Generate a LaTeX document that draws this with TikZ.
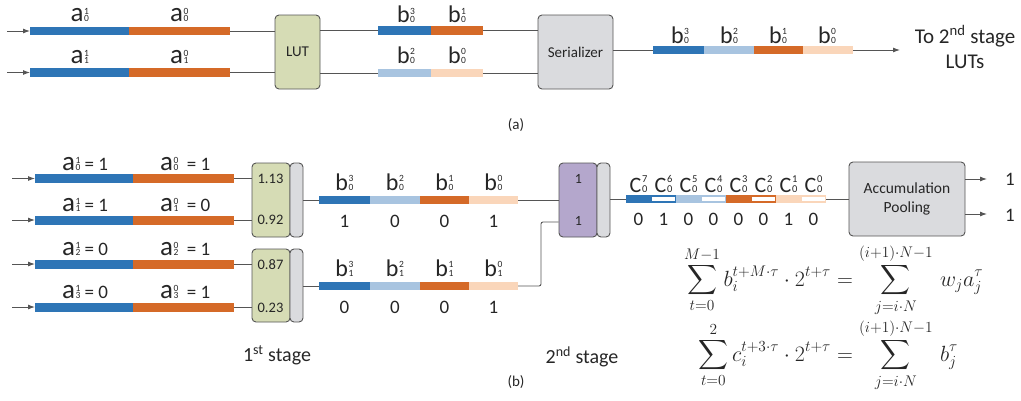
\RequirePackage{fix-cm}
\documentclass[tikz,border=0pt]{standalone}
\usepackage{amsmath}
\usepackage[no-math]{fontspec}
\setmainfont{Carlito}
\usetikzlibrary{arrows.meta}

\definecolor{segblue}{RGB}{46,117,182}
\definecolor{segorange}{RGB}{213,106,40}
\definecolor{seglblue}{RGB}{168,196,224}
\definecolor{segpeach}{RGB}{250,214,186}
\definecolor{lutgreen}{RGB}{214,220,181}
\definecolor{lutpurple}{RGB}{180,167,204}
\definecolor{boxgray}{RGB}{218,219,222}
\definecolor{wire}{RGB}{85,85,85}
\definecolor{ink}{RGB}{38,38,38}

\newcommand{\fs}[1]{\fontsize{#1}{#1}\selectfont}
% bit label: letter followed by a stacked superscript / subscript pair
\newcommand{\bitlab}[6]{{\fs{#1}#2}\kern0.6pt{\fs{#3}\rlap{\raisebox{#4}{#5}}#6}}
\newcommand{\av}[2]{\bitlab{27}{a}{9.5}{7pt}{#1}{#2}}
\newcommand{\bv}[2]{\bitlab{24}{b}{9.5}{8.6pt}{#1}{#2}}
\newcommand{\cv}[2]{\bitlab{22}{C}{10.5}{9.5pt}{#1}{#2}}

\begin{document}
\begin{tikzpicture}[x=1pt,y=-1pt,
  seg/.style={rectangle, inner sep=0, outer sep=0, minimum height=8.5, draw=none},
  wirel/.style={draw=wire, line width=0.9pt},
  arr/.style={wirel, -{Latex[length=7pt,width=5pt]}},
  ubox/.style={rectangle, rounded corners=4, draw=wire, line width=0.9pt, inner sep=0, text=ink},
  txt/.style={text=ink, inner sep=0, outer sep=0},
]
\useasboundingbox (0,0) rectangle (1021,400);

% ---------------- (a) serialisation of the first-stage outputs
\foreach \r/\y in {0/31, 1/72.5} {
  \node[seg, fill=segblue, minimum width=99] (tah\r) at (79.5,\y) {};
  \node[seg, fill=segorange, minimum width=101] (tal\r) at (179.5,\y) {};
  \coordinate (tin\r) at (7,\y);
  \draw[arr] (tin\r) -- (tah\r.west);
  \node[txt, anchor=base west] at (70.5,{\y-9.4}) {\av{1}{\r}};
  \node[txt, anchor=base west] at (170,{\y-9.4}) {\av{0}{\r}};
}
\node[ubox, fill=lutgreen, minimum width=45, minimum height=74] (tlut) at (297.5,52) {\fs{15}LUT};
\draw[wirel] (tal0.east) -- (tal0.east -| tlut.west);
\draw[wirel] (tal1.east) -- (tal1.east -| tlut.west);

\node[seg, fill=segblue,   minimum width=53] (tb3) at (404.5,30.5) {};
\node[seg, fill=segorange, minimum width=52] (tb1) at (457,30.5) {};
\node[seg, fill=seglblue,  minimum width=53] (tb2) at (404.5,73) {};
\node[seg, fill=segpeach,  minimum width=52] (tb0) at (457,73) {};
\node[txt, anchor=base west] at (397,22.7) {\bv{3}{0}};
\node[txt, anchor=base west] at (448,22.7) {\bv{1}{0}};
\node[txt, anchor=base west] at (397,63.3) {\bv{2}{0}};
\node[txt, anchor=base west] at (448,63.3) {\bv{0}{0}};
\draw[wirel] (tb3.west -| tlut.east) -- (tb3.west);
\draw[wirel] (tb2.west -| tlut.east) -- (tb2.west);

\node[ubox, fill=boxgray, minimum width=75, minimum height=74] (tser) at (575.5,52) {\fs{15}Serializer};
\draw[wirel] (tb1.east) -- (tb1.east -| tser.west);
\draw[wirel] (tb0.east) -- (tb0.east -| tser.west);

\node[seg, fill=segblue,   minimum width=51] (ts3) at (678.5,50) {};
\node[seg, fill=seglblue,  minimum width=50] (ts2) at (729,50) {};
\node[seg, fill=segorange, minimum width=49] (ts1) at (778.5,50) {};
\node[seg, fill=segpeach,  minimum width=50] (ts0) at (828,50) {};
\node[txt, anchor=base west] at (671,43) {\bv{3}{0}};
\node[txt, anchor=base west] at (720,43) {\bv{2}{0}};
\node[txt, anchor=base west] at (769,43) {\bv{1}{0}};
\node[txt, anchor=base west] at (818,43) {\bv{0}{0}};
\draw[wirel] (ts3.west -| tser.east) -- (ts3.west);
\coordinate (tout) at (900,50);
\draw[arr] (ts0.east) -- (tout);
\node[txt, anchor=base] (tnext1) at (965,43.3) {\fs{21}To 2\textsuperscript{nd} stage};
\node[txt, anchor=base] (tnext2) at (965,68.3) {\fs{21}LUTs};
\node[txt] (capa) at (516,125) {\fs{15}(a)};

% ---------------- (b) two-stage evaluation example
\foreach \r/\y/\h/\l in {0/178.5/1/1, 1/220/1/0, 2/264/0/1, 3/307/0/1} {
  \node[seg, fill=segblue, minimum width=98, minimum height=9] (bah\r) at (84,\y) {};
  \node[seg, fill=segorange, minimum width=101, minimum height=9] (bal\r) at (183.5,\y) {};
  \coordinate (bin\r) at (12,\y);
  \draw[arr] (bin\r) -- (bah\r.west);
  \node[txt, anchor=base west] at (62,{\y-8.5}) {\av{1}{\r}\fs{19} = \h};
  \node[txt, anchor=base west] at (160,{\y-8.5}) {\av{0}{\r}\fs{19} \ = \l};
}

\node[ubox, fill=lutgreen, minimum width=38, minimum height=74] (blut0) at (271,200) {};
\node[ubox, fill=boxgray,  minimum width=13, minimum height=74] (breg0) at (296.5,200) {};
\node[ubox, fill=lutgreen, minimum width=38, minimum height=73] (blut1) at (271,285.5) {};
\node[ubox, fill=boxgray,  minimum width=13, minimum height=73] (breg1) at (296.5,285.5) {};
\node[txt] at (270.5,178.5) {\fs{14.5}1.13};
\node[txt] at (270.5,220) {\fs{14.5}0.92};
\node[txt] at (270.5,265) {\fs{14.5}0.87};
\node[txt] at (270.5,307.5) {\fs{14.5}0.23};
\draw[wirel] (bal0.east) -- (bal0.east -| blut0.west);
\draw[wirel] (bal1.east) -- (bal1.east -| blut0.west);
\draw[wirel] (bal2.east) -- (bal2.east -| blut1.west);
\draw[wirel] (bal3.east) -- (bal3.east -| blut1.west);

% first-stage outputs b_i
\foreach \r/\y/\va/\vb/\vc/\vd in {0/200/1/0/0/1, 1/286/0/0/0/1} {
  \foreach \k/\cx/\w/\c/\v in {3/344.5/51/segblue/\va, 2/395/50/seglblue/\vb, 1/444.5/49/segorange/\vc, 0/493.5/49/segpeach/\vd} {
    \node[seg, fill=\c, minimum width=\w, minimum height=8.5] (bb\r s\k) at (\cx,\y) {};
    \node[txt, anchor=base] at (\cx,{\y-9.6}) {\bv{\k}{\r}};
    \node[txt, anchor=base] at (\cx,{\y+27}) {\fs{19}\v};
  }
}
\draw[wirel] (bb0s3.west -| breg0.east) -- (bb0s3.west);
\draw[wirel] (bb1s3.west -| breg1.east) -- (bb1s3.west);

% second stage
\node[ubox, fill=lutpurple, minimum width=38, minimum height=74] (plut) at (578,200) {};
\node[ubox, fill=boxgray,   minimum width=13, minimum height=74] (preg) at (603.5,200) {};
\node[txt] at (578.5,179) {\fs{14}1};
\node[txt] at (578.5,221) {\fs{14}1};
\draw[wirel] (bb0s0.east) -- (bb0s0.east -| plut.west);
\draw[wirel, rounded corners=2] (bb1s0.east) -- ++(23,0) |- (plut.west |- 0,222);

% second-stage outputs c_i
\foreach \k/\c/\v [count=\n from 0] in {7/segblue/0, 6/segblue/1, 5/seglblue/0, 4/seglblue/0, 3/segorange/0, 2/segorange/0, 1/segpeach/1, 0/segpeach/0} {
  \pgfmathsetmacro\cx{638.5+25*\n}
  \node[seg, fill=\c, minimum width=25, minimum height=8] (cs\k) at (\cx,199) {};
  \node[txt, anchor=base] at (\cx,192) {\cv{\k}{0}};
  \node[txt, anchor=base] at (\cx,225) {\fs{19}\v};
}
\foreach \k in {6,4,2,0}
  \node[seg, fill=white, minimum width=22.5, minimum height=3.6] at (cs\k.center) {};
\draw[wirel] (cs7.west -| preg.east) -- (cs7.west);

\node[ubox, fill=boxgray, minimum width=116, minimum height=74, align=center,
      font=\fontsize{15.5}{19}\selectfont] (acc) at (907,199) {Accumulation\\Pooling};
\draw[wirel] (cs0.east) -- (cs0.east -| acc.west);
\coordinate (o1) at (987,179);
\coordinate (o2) at (987,214);
\draw[arr] (acc.east |- o1) -- (o1);
\draw[arr] (acc.east |- o2) -- (o2);
\node[txt] at (1010,179) {\fs{19}1};
\node[txt] at (1010,215) {\fs{19}1};

\node[txt] (st1) at (277,355) {\fs{20}1\textsuperscript{st} stage};
\node[txt] (st2) at (582,357) {\fs{20}2\textsuperscript{nd} stage};
\node[txt] (capb) at (516,382) {\fs{15}(b)};

% bit-serial identities
\node[txt, anchor=base east] (eq1l) at (831,286)
  {\fs{22}$\displaystyle\sum_{t=0}^{M-1} b_i^{t+M\cdot\tau}\cdot 2^{t+\tau}$};
\node[txt, anchor=base west] (eq1r) at (eq1l.base east)
  {\fs{22}$\displaystyle{}=\sum_{j=i\cdot N}^{(i+1)\cdot N-1}\, w_j a_j^{\tau}$};
\node[txt, anchor=base east] (eq2l) at (831,361)
  {\fs{22}$\displaystyle\sum_{t=0}^{2} c_i^{t+3\cdot\tau}\cdot 2^{t+\tau}$};
\node[txt, anchor=base west] (eq2r) at (eq2l.base east)
  {\fs{22}$\displaystyle{}=\sum_{j=i\cdot N}^{(i+1)\cdot N-1}\, b_j^{\tau}$};
\end{tikzpicture}
\end{document}
